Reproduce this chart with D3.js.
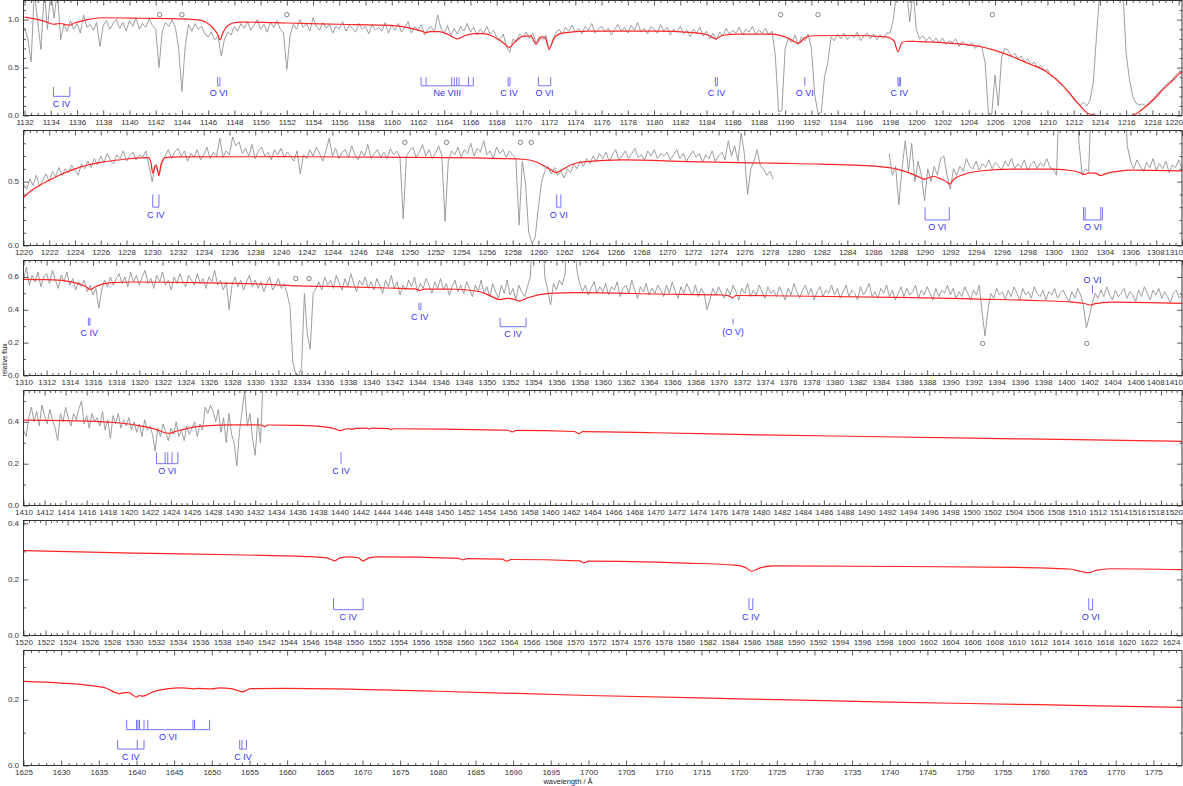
<!DOCTYPE html>
<html>
<head>
<meta charset="utf-8">
<script src="https://cdn.jsdelivr.net/npm/d3@7"></script>
<style>
  body { margin: 0; background: #fff; }
  svg text { font-family: "Liberation Sans", Arial, sans-serif; }
</style>
</head>
<body>
<div id="chart"></div>
<script>
// observed spectrum, relative flux on a 0.25 A grid (1.30 = off the top of the panel)
const obsStep = 0.25;
const obs1Start = 1132.0;
const obs1Flux = [
  .92,.80,.56,1.30,.98,.69,1.30,.90,1.30,1.02,1.30,.79,.95,.88,.99,.90,.96,.86,1.05,.92,
  .95,.89,.97,.72,.94,.99,.90,.96,1.00,.91,.97,.88,.99,.93,1.02,.90,.96,.92,1.01,.94,
  .90,.50,.88,.97,.93,1.00,.92,.70,.25,.72,.95,.88,.96,.90,.93,.85,.82,.87,.79,.83,
  .62,.80,.87,.84,.93,.88,.96,.91,.98,.89,.94,1.00,.90,.95,.87,.97,.92,.99,.90,.86,
  .48,.84,.95,.90,1.00,.92,.96,.88,1.02,.93,.89,.97,.91,.95,.86,.93,.90,.98,.88,.94,
  .91,.87,.96,.90,.93,.85,.95,.89,.92,.88,.97,.86,.94,.89,.96,.87,.92,.98,.86,.93,
  .89,.95,.84,.90,.93,.87,1.05,.91,.86,.94,.83,.91,.85,.93,.88,.96,.87,.92,.84,.90,
  .86,.93,.85,.89,.82,.79,.85,.72,.66,.80,.77,.85,.82,.87,.80,.86,.76,.82,.79,.84,
  .68,.78,.86,.90,.85,.92,.88,.94,.87,.91,.85,.93,.89,.96,.86,.90,.93,.87,.91,.84,
  .90,.95,.88,.92,.86,.94,.89,.97,.87,.91,.85,.93,.90,.86,.95,.88,.92,.84,.90,.87,
  .93,.85,.89,.82,.90,.86,.92,.83,.88,.80,.86,.79,.87,.83,.91,.85,.89,.86,.92,.84,
  .90,.87,.93,.85,.89,.86,.91,.84,.88,.62,.04,.05,.70,.80,.76,.84,.74,.82,.78,.85,
  .70,.22,.02,.03,.40,.55,.82,.78,.85,.80,.86,.79,.84,.81,.87,.78,.83,.86,.80,.85,
  .79,.84,.81,.86,.86,1.00,1.30,1.30,1.30,1.30,.98,1.30,.90,.80,.83,.78,.82,.77,.81,.76,
  .81,.74,.78,.76,.80,.72,.77,.74,.73,.76,.70,.74,.71,.55,.02,.01,.42,.10,.60,.70,
  .68,.62,.65,.59,.62,.56,.59,.53,.56,.50,.52,.47,.48,.42,.40,.37,.33,.30,.25,.22,
  .17,.13,.11,.14,.10,.16,.35,.85,1.30,1.30,1.30,1.30,1.30,1.30,1.30,1.30,.65,.38,.20,.13,
  .11,.12,.10,.13,.17,.21,.24,.28,.31,.35,.37,.42,.45,.47
];
const obs2aStart = 1220.0;
const obs2aFlux = [
  .48,.44,.52,.47,.55,.46,.51,.56,.50,.58,.54,.61,.55,.60,.57,.63,.59,.55,.64,.60,
  .66,.61,.68,.63,.70,.65,.72,.67,.64,.71,.68,.74,.66,.70,.73,.67,.71,.69,.74,.62,
  .50,.63,.56,.64,.70,.75,.68,.73,.76,.70,.74,.66,.72,.69,.75,.67,.71,.77,.68,.73,
  .70,.84,.69,.74,.71,.85,.78,.81,.72,.76,.70,.79,.68,.74,.77,.70,.73,.67,.75,.71,
  .76,.69,.73,.70,.66,.74,.56,.71,.68,.75,.70,.77,.72,.66,.74,.84,.70,.76,.68,.73,
  .75,.69,.78,.71,.67,.74,.70,.79,.68,.72,.75,.69,.73,.68,.76,.71,.74,.69,.21,.70,
  .74,.77,.69,.73,.79,.70,.75,.68,.72,.78,.70,.19,.66,.74,.71,.77,.69,.75,.72,.80,
  .70,.76,.73,.82,.71,.74,.68,.77,.72,.75,.69,.74,.71,.68,.16,.66,.48,.10,.02,.06,
  .30,.50,.58,.62,.56,.61,.55,.58,.53,.60,.57,.64,.60,.66,.62,.68,.64,.70,.66,.72,
  .68,.73,.66,.71,.75,.67,.70,.74,.68,.72,.76,.69,.71,.67,.74,.70,.75,.68,.72,.70,
  .73,.67,.71,.75,.68,.72,.66,.70,.74,.69,.72,.65,.71,.68,.74,.66,.70,.73,.67,.82,
  .70,.78,.66,.88,.72,.40,.60,.66,.75,.62,.60,.55,.58,.52
];
const obs2bStart = 1287.25;
const obs2bFlux = [
  .72,.55,.62,.32,.60,.82,.58,.80,.50,.66,.55,.35,.60,.50,.62,.55,
  .68,.70,.55,.44,.60,.55,.62,.58,.68,.62,.60,.66,.59,.64,.61,.67,.60,.65,.62,.59,
  .66,.62,.68,.60,.64,.61,.67,.59,.63,.66,.60,.65,.62,.68,.61,.60,.55,1.30,1.30,1.30,
  1.30,1.30,1.30,.80,.55,.60,.58,1.30,1.30,1.30,1.30,1.30,1.30,1.30,1.30,1.30,1.30,1.30,.78,.66,
  .60,.67,.62,.58,.65,.61,.68,.59,.64,.60,.66,.57,.63,.61,.67,.60
];
const obs3Start = 1310.0;
const obs3Flux = [
  .58,.66,.55,.61,.57,.63,.54,.60,.62,.56,.64,.58,.53,.61,.57,.63,.55,.59,.52,.57,
  .54,.58,.51,.55,.49,.53,.41,.52,.58,.54,.60,.55,.59,.62,.56,.60,.54,.63,.57,.61,
  .55,.60,.64,.56,.59,.53,.61,.57,.63,.55,.58,.52,.60,.56,.62,.57,.54,.61,.58,.55,
  .62,.56,.59,.53,.60,.57,.64,.55,.58,.52,.57,.40,.55,.60,.54,.58,.52,.57,.61,.54,
  .58,.53,.57,.51,.56,.60,.52,.55,.59,.53,.56,.50,.42,.08,.01,.00,.05,.50,.25,.16,
  .50,.53,.57,.52,.60,.55,.58,.53,.61,.56,.52,.59,.54,.62,.56,.51,.58,.55,.60,.53,
  .57,.52,.59,.55,.50,.58,.54,.61,.53,.57,.49,.55,.52,.58,.54,.60,.51,.56,.53,.59,
  .55,.50,.57,.53,.59,.52,.56,.49,.54,.58,.51,.55,.50,.57,.53,.48,.55,.51,.58,.50,
  .54,.48,.56,.51,.47,.55,.50,.58,.49,.53,.46,.55,.51,.48,.54,.60,1.00,1.00,1.00,1.00,
  .60,.52,.43,.56,.52,.58,.55,.62,1.00,1.00,1.00,.65,.56,.51,.55,.49,.53,.57,.50,.54,
  .51,.56,.49,.54,.52,.57,.48,.53,.55,.50,.58,.52,.47,.54,.51,.56,.49,.53,.50,.55,
  .52,.48,.55,.50,.57,.51,.47,.54,.50,.56,.52,.49,.55,.48,.53,.50,.40,.46,.53,.49,
  .54,.50,.47,.53,.49,.55,.51,.46,.53,.50,.56,.48,.52,.49,.55,.51,.47,.54,.50,.52,
  .48,.54,.50,.46,.53,.49,.56,.51,.47,.52,.55,.49,.53,.46,.51,.54,.48,.52,.50,.55,
  .49,.53,.47,.51,.55,.48,.52,.50,.46,.54,.49,.52,.56,.48,.51,.47,.53,.50,.55,.48,
  .52,.46,.50,.54,.48,.53,.49,.51,.55,.47,.52,.49,.54,.50,.46,.53,.48,.52,.50,.55,
  .49,.53,.47,.51,.48,.54,.50,.46,.52,.49,.55,.38,.24,.40,.50,.47,.53,.49,.51,.46,
  .52,.48,.54,.50,.46,.53,.49,.51,.47,.54,.50,.48,.52,.46,.51,.49,.53,.47,.50,.52,
  .48,.45,.51,.47,.53,.49,.42,.29,.36,.44,.50,.47,.52,.48,.54,.49,.46,.52,.48,.50,
  .53,.47,.51,.49,.45,.52,.48,.54,.50,.46,.52,.49,.53,.47,.51,.48,.44,.50,.52,.47,
  .49
];
const obs4Start = 1410.0;
const obs4Flux = [
  .36,.33,.42,.47,.40,.45,.38,.48,.43,.39,.46,.41,.37,.31,.44,.40,.47,.42,.38,.44,
  .41,.46,.50,.39,.43,.37,.44,.40,.42,.38,.45,.36,.41,.32,.43,.39,.44,.37,.41,.38,
  .42,.36,.40,.35,.39,.33,.41,.36,.38,.34,.26,.37,.33,.39,.35,.31,.37,.34,.40,.33,
  .36,.31,.38,.34,.37,.40,.33,.39,.36,.47,.44,.48,.45,.40,.46,.35,.42,.30,.44,.34,
  .30,.19,.35,.45,.55,.38,.44,.32,.24,.42,.30,.60,.70
];

// model spectrum, [wavelength, relative flux], one list per panel
const model1 = [[1132,1.027],[1132.7,1.01],[1133.5,0.985],[1134.2,0.952],[1134.7,0.96],[1135.45,0.942],[1135.8,0.965],
  [1136.8,1.0],[1137.9,1.02],[1141,1.015],[1144,1.008],[1145.2,0.998],[1145.8,0.975],[1146.4,0.91],[1146.75,0.84],
  [1146.92,0.79],[1147.1,0.855],[1147.4,0.925],[1147.9,0.965],[1148.5,0.975],[1152,0.965],[1156,0.952],[1160,0.94],
  [1161.5,0.91],[1162.3,0.88],[1162.6,0.865],[1162.9,0.875],[1163.6,0.875],[1164.3,0.845],[1165.0,0.80],[1165.6,0.835],
  [1166.3,0.855],[1167.0,0.855],[1167.8,0.82],[1168.5,0.76],[1168.97,0.71],[1169.4,0.77],[1170.0,0.825],[1170.6,0.83],
  [1171.0,0.745],[1171.4,0.82],[1171.7,0.81],[1172.0,0.695],[1172.4,0.81],[1173.0,0.86],[1175,0.88],[1180,0.88],
  [1183,0.865],[1184.2,0.835],[1184.7,0.80],[1185.2,0.835],[1186.5,0.85],[1189,0.85],[1190.0,0.82],[1190.6,0.78],
  [1191.0,0.752],[1191.5,0.81],[1192.1,0.832],[1195,0.835],[1197.7,0.82],[1198.3,0.78],[1198.6,0.665],[1198.9,0.76],
  [1199.3,0.775],[1200,0.772],[1202,0.76],[1204.85,0.72],[1206,0.68],[1207.4,0.61],[1208.5,0.545],[1209.9,0.46],
  [1211.2,0.31],[1212.0,0.18],[1212.5,0.10],[1213.0,0.03],[1213.5,0.005],[1214,0],[1216.4,0],[1216.8,0.02],
  [1217.05,0.045],[1217.55,0.10],[1218.2,0.18],[1218.8,0.27],[1219.5,0.36],[1220.1,0.44],[1220.3,0.46]];
const model2 = [[1220,0.375],[1220.5,0.42],[1221,0.455],[1222,0.51],[1223,0.56],[1224,0.60],[1225,0.63],[1226,0.65],
  [1227,0.665],[1228,0.677],[1229,0.685],[1229.7,0.688],[1229.9,0.65],[1230.04,0.565],[1230.2,0.62],[1230.3,0.63],
  [1230.4,0.60],[1230.52,0.545],[1230.7,0.64],[1231,0.688],[1232,0.693],[1240,0.695],[1250,0.69],[1255,0.685],
  [1258.8,0.675],[1259.8,0.655],[1260.4,0.625],[1261.0,0.59],[1261.4,0.57],[1261.8,0.59],[1262.5,0.63],[1263.5,0.655],
  [1266.6,0.67],[1271.7,0.657],[1278.2,0.644],[1282,0.637],[1286.5,0.618],[1287.8,0.60],[1289.1,0.557],[1289.7,0.53],
  [1290.0,0.518],[1290.3,0.53],[1290.7,0.54],[1291.3,0.52],[1291.7,0.50],[1291.93,0.48],[1292.3,0.52],[1293.0,0.555],
  [1294.3,0.583],[1296.8,0.597],[1300,0.598],[1301.5,0.585],[1302.1,0.568],[1302.4,0.556],[1302.8,0.568],[1303.3,0.565],
  [1303.7,0.548],[1304.2,0.567],[1305,0.58],[1306,0.59],[1310,0.584]];
const model3 = [[1310,0.585],[1312,0.583],[1313.7,0.575],[1314.9,0.555],[1315.4,0.54],[1315.75,0.524],[1316.2,0.54],
  [1316.6,0.552],[1317.7,0.565],[1319.5,0.569],[1325,0.565],[1331,0.555],[1333.8,0.545],[1338,0.54],[1342.5,0.53],
  [1343.8,0.527],[1344.2,0.518],[1344.6,0.526],[1347.3,0.525],[1349.4,0.51],[1350.3,0.485],[1351.1,0.462],[1351.8,0.47],
  [1352.4,0.462],[1352.8,0.453],[1353.6,0.475],[1355.4,0.50],[1357.7,0.504],[1360,0.503],[1364.6,0.496],[1370.3,0.49],
  [1370.9,0.485],[1371.2,0.473],[1371.5,0.487],[1376.1,0.484],[1386.7,0.474],[1392.4,0.465],[1398,0.455],[1400.5,0.447],
  [1401.5,0.44],[1402.1,0.429],[1402.5,0.437],[1403.9,0.447],[1410,0.439]];
const model4 = [[1410,0.408],[1415,0.405],[1418.6,0.397],[1421.1,0.381],[1422.5,0.365],[1423.8,0.345],[1424.5,0.355],
  [1425.5,0.368],[1426.6,0.378],[1429.5,0.386],[1432.6,0.385],[1432.9,0.377],[1433.2,0.385],[1436,0.383],[1438.6,0.376],
  [1439.5,0.368],[1440.1,0.358],[1440.6,0.366],[1441.0,0.368],[1441.2,0.364],[1441.5,0.369],[1442.6,0.37],[1442.8,0.366],
  [1443.0,0.37],[1444.7,0.368],[1444.9,0.363],[1445.1,0.367],[1450,0.365],[1456.0,0.36],[1456.4,0.352],[1456.8,0.359],
  [1462.3,0.354],[1462.7,0.344],[1463.1,0.353],[1470,0.348],[1480,0.338],[1490,0.33],[1500,0.322],[1510,0.315],[1520,0.307]];
const model5 = [[1520,0.303],[1530,0.294],[1540,0.287],[1546,0.281],[1547.5,0.277],[1548.2,0.266],[1548.7,0.277],
  [1549.5,0.28],[1550.3,0.278],[1550.8,0.266],[1551.3,0.277],[1552,0.28],[1559.4,0.275],[1559.8,0.27],[1560.2,0.274],
  [1563.4,0.272],[1563.8,0.265],[1564.2,0.271],[1570.4,0.266],[1570.8,0.259],[1571.2,0.265],[1580,0.258],[1584.5,0.251],
  [1585.4,0.243],[1586.0,0.229],[1586.7,0.24],[1588,0.248],[1600,0.246],[1610,0.243],[1614.8,0.237],[1615.8,0.229],
  [1616.5,0.224],[1617.2,0.232],[1618.5,0.238],[1625,0.235]];
const model6 = [[1625,0.256],[1630,0.251],[1634,0.243],[1636,0.235],[1637.2,0.222],[1637.7,0.219],[1638.4,0.222],
  [1639,0.222],[1639.6,0.213],[1640.0,0.208],[1640.4,0.213],[1640.8,0.211],[1641.3,0.214],[1642,0.222],[1644,0.233],
  [1646,0.236],[1647.0,0.235],[1647.5,0.233],[1648,0.235],[1650,0.233],[1651,0.236],[1652.5,0.234],[1653.5,0.228],
  [1654.0,0.224],[1654.5,0.228],[1655.2,0.234],[1660,0.235],[1680,0.226],[1700,0.213],[1720,0.203],[1740,0.193],
  [1760,0.185],[1778.8,0.177]];

// line identifications: wavelengths of the components, tick span in flux units
const lineIds = [
  {ion: "C IV", lines: [1134.2, 1135.45], top: 0.30, bot: 0.20},
  {ion: "O VI", lines: [1146.72, 1146.9], top: 0.40, bot: 0.31},
  {ion: "Ne VIII", lines: [1162.24, 1162.62, 1164.57, 1164.77, 1164.95, 1165.13, 1165.85, 1166.22], top: 0.40, bot: 0.31},
  {ion: "C IV", lines: [1168.88, 1169.02], top: 0.40, bot: 0.31},
  {ion: "O VI", lines: [1171.18, 1172.12], top: 0.40, bot: 0.31},
  {ion: "C IV", lines: [1184.68, 1184.83], top: 0.40, bot: 0.31},
  {ion: "O VI", lines: [1191.5], top: 0.40, bot: 0.31},
  {ion: "C IV", lines: [1198.6, 1198.7, 1198.8], top: 0.40, bot: 0.31},
  {ion: "C IV", lines: [1230.04, 1230.52], top: 0.40, bot: 0.30},
  {ion: "O VI", lines: [1261.42, 1261.75], top: 0.40, bot: 0.30},
  {ion: "O VI", lines: [1290.04, 1291.92], top: 0.30, bot: 0.20},
  {ion: "O VI", lines: [1302.35, 1302.48, 1303.69, 1303.82], top: 0.30, bot: 0.20},
  {ion: "C IV", lines: [1315.6, 1315.74], top: 0.352, bot: 0.307},
  {ion: "C IV", lines: [1344.13, 1344.3], top: 0.443, bot: 0.402},
  {ion: "C IV", lines: [1351.14, 1353.38], top: 0.352, bot: 0.297},
  {ion: "(O V)", lines: [1371.25], top: 0.346, bot: 0.311},
  {ion: "O VI", lines: [1402.27], top: 0.55, bot: 0.498, above: true},
  {ion: "O VI", lines: [1422.63, 1423.45, 1423.7, 1424.1, 1424.66], top: 0.255, bot: 0.20},
  {ion: "C IV", lines: [1440.15], top: 0.255, bot: 0.20},
  {ion: "C IV", lines: [1548.1, 1550.78], top: 0.133, bot: 0.092},
  {ion: "C IV", lines: [1585.75, 1586.1], top: 0.133, bot: 0.092},
  {ion: "O VI", lines: [1616.55, 1616.9], top: 0.133, bot: 0.092},
  {ion: "O VI", lines: [1638.7, 1640.0, 1640.2, 1640.4, 1641.0, 1641.5, 1647.5, 1647.7, 1649.7], top: 0.139, bot: 0.109},
  {ion: "C IV", lines: [1637.5, 1640.1, 1641.0], top: 0.078, bot: 0.05},
  {ion: "C IV", lines: [1653.7, 1654.0, 1654.6], top: 0.078, bot: 0.05}
];

// interstellar lines, [wavelength, flux of the marker]
const ismMarks = [[1142.3,1.052],[1144.0,1.052],[1152.0,1.052],[1189.65,1.052],[1192.5,1.052],[1205.8,1.052],
  [1249.62,0.807],[1252.86,0.807],[1258.6,0.807],[1259.45,0.807],[1333.5,0.59],[1334.65,0.59],
  [1392.79,0.195],[1401.78,0.195]];

const panelRanges = [[1131.92,1220.26],[1220,1310],[1310,1410],[1410,1520],[1520,1625],[1625,1778.8]];
const fluxMax = [1.2, 0.9, 0.7, 0.55, 0.41, 0.35];
const fluxLabels = [[0,0.5,1.0],[0,0.5],[0,0.2,0.4,0.6],[0,0.2,0.4],[0,0.2,0.4],[0,0.2]];
const models = [model1, model2, model3, model4, model5, model6];

// settings
const W = 1183, H = 786;
const left = 23.5, right = 1182;
const panelH = 115, panelGap = 130;
const axisColor = "#333";

const obsSegments = [
  {start: obs1Start, flux: obs1Flux}, {start: obs2aStart, flux: obs2aFlux}, {start: obs2bStart, flux: obs2bFlux},
  {start: obs3Start, flux: obs3Flux}, {start: obs4Start, flux: obs4Flux}
].map(s => s.flux.map((f, i) => [s.start + i * obsStep, f]));

const svg = d3.select("#chart").append("svg").attr("width", W).attr("height", H);
svg.append("rect").attr("width", W).attr("height", H).attr("fill", "white");

function stepValues(r, step) {
  return d3.range(Math.ceil(r[0] / step - 1e-6), Math.floor(r[1] / step + 1e-6) + 1).map(k => +(k * step).toFixed(4));
}

panelRanges.forEach((range, i) => {
  const top = 0.5 + i * panelGap, bottom = top + panelH;
  const x = d3.scaleLinear().domain(range).range([left, right]);
  const y = d3.scaleLinear().domain([0, fluxMax[i]]).range([bottom, top]);
  const g = svg.append("g").attr("class", "panel");

  svg.append("clipPath").attr("id", "clip" + i)
    .append("rect").attr("x", left).attr("y", top).attr("width", right - left).attr("height", panelH);

  const plot = g.append("g").attr("clip-path", "url(#clip" + i + ")");

  // observed spectrum
  const obsLine = d3.line().x(d => x(d[0])).y(d => y(d[1]));
  obsSegments.forEach(seg => {
    const pts = seg.filter(d => d[0] >= range[0] - 0.3 && d[0] <= range[1] + 0.3);
    if (pts.length < 2) return;
    plot.append("path").attr("d", obsLine(pts))
      .attr("fill", "none").attr("stroke", "#939393").attr("stroke-width", 0.9);
  });

  // model
  const modelLine = d3.line().x(d => x(d[0])).y(d => y(d[1])).curve(d3.curveMonotoneX);
  plot.append("path").attr("d", modelLine(models[i]))
    .attr("fill", "none").attr("stroke", "#ff2424").attr("stroke-width", 1.2);

  // ISM markers
  plot.selectAll("circle")
    .data(ismMarks.filter(d => d[0] >= range[0] && d[0] <= range[1]))
    .join("circle")
    .attr("cx", d => x(d[0])).attr("cy", d => y(d[1])).attr("r", 2.2)
    .attr("fill", "white").attr("stroke", "#666").attr("stroke-width", 0.8);

  // line identifications
  lineIds.filter(d => d.lines[0] >= range[0] && d.lines[0] <= range[1]).forEach(d => {
    const idg = g.append("g");
    const y1 = y(d.top), y2 = y(d.bot);
    idg.selectAll("line.tk").data(d.lines).join("line").attr("class", "tk")
      .attr("x1", l => x(l)).attr("x2", l => x(l))
      .attr("y1", y1).attr("y2", y2)
      .attr("stroke", "#7474ff").attr("stroke-width", 1);
    const lo = x(d3.min(d.lines)), hi = x(d3.max(d.lines));
    const yb = d.above ? y1 : y2;
    if (hi - lo > 0.5) {
      idg.append("line").attr("x1", lo).attr("x2", hi).attr("y1", yb).attr("y2", yb)
        .attr("stroke", "#7474ff").attr("stroke-width", 1);
    }
    idg.append("text")
      .attr("x", (lo + hi) / 2)
      .attr("y", d.above ? y1 - 2.5 : y2 + 10.5)
      .attr("text-anchor", "middle")
      .attr("font-size", 9)
      .attr("fill", "#3333f2")
      .text(d.ion);
  });

  // axes
  const xMajorStep = i === 5 ? 5 : 2, xMinorStep = i === 5 ? 1 : 0.5;
  const xMajor = stepValues(range, xMajorStep);
  const xMinor = stepValues(range, xMinorStep).filter(v => xMajor.indexOf(v) < 0);
  const yMinor = stepValues([0, fluxMax[i]], 0.1).filter(v => fluxLabels[i].every(l => Math.abs(l - v) > 1e-6));

  const styleAxis = a => {
    a.select(".domain").remove();
    a.attr("color", axisColor).attr("font-size", 8).attr("font-family", null);
    a.selectAll("line").attr("stroke-width", 0.8);
  };

  g.append("g").attr("transform", `translate(0,${bottom})`)
    .call(d3.axisBottom(x).tickValues(xMinor).tickSize(-2.5).tickFormat("")).call(styleAxis);
  g.append("g").attr("class", "xlab").attr("transform", `translate(0,${bottom})`)
    .call(d3.axisBottom(x).tickValues(xMajor).tickSize(-5).tickPadding(3.6).tickFormat(d3.format("d"))).call(styleAxis);
  g.append("g").attr("transform", `translate(0,${top})`)
    .call(d3.axisTop(x).tickValues(xMinor).tickSize(-2.5).tickFormat("")).call(styleAxis);
  g.append("g").attr("transform", `translate(0,${top})`)
    .call(d3.axisTop(x).tickValues(xMajor).tickSize(-5).tickFormat("")).call(styleAxis);

  g.append("g").attr("transform", `translate(${left},0)`)
    .call(d3.axisLeft(y).tickValues(yMinor).tickSize(-2.5).tickFormat("")).call(styleAxis);
  g.append("g").attr("class", "ylab").attr("transform", `translate(${left},0)`)
    .call(d3.axisLeft(y).tickValues(fluxLabels[i]).tickSize(-5).tickPadding(4.5).tickFormat(d3.format(".1f"))).call(styleAxis);
  g.append("g").attr("transform", `translate(${right},0)`)
    .call(d3.axisRight(y).tickValues(yMinor).tickSize(-2.5).tickFormat("")).call(styleAxis);
  g.append("g").attr("transform", `translate(${right},0)`)
    .call(d3.axisRight(y).tickValues(fluxLabels[i]).tickSize(-5).tickFormat("")).call(styleAxis);

  // frame
  g.append("rect").attr("x", left).attr("y", top).attr("width", right - left).attr("height", panelH)
    .attr("fill", "none").attr("stroke", axisColor).attr("stroke-width", 1);
});

// the 0.0 label sits just above the first wavelength label
svg.selectAll(".ylab .tick text").attr("dy", "0.22em");

// keep the last tick labels of each panel inside the picture, without overlapping
svg.selectAll(".xlab").each(function() {
  const info = d3.select(this).selectAll(".tick text").nodes().map(n => {
    const tx = +d3.select(n.parentNode).attr("transform").match(/translate\(([-\d.]+)/)[1];
    return {n: n, tx: tx, cx: tx, half: n.getComputedTextLength() / 2};
  });
  const last = info[info.length - 1];
  last.cx = Math.min(last.tx, W - last.half);
  for (let k = info.length - 2; k >= 0; k--) {
    const room = info[k + 1].cx - info[k + 1].half - 0.6;
    if (info[k].cx + info[k].half > room) info[k].cx = room - info[k].half;
    else break;
  }
  info.forEach(d => d3.select(d.n).attr("x", d.cx - d.tx));
});

svg.append("text")
  .attr("transform", "translate(7,360) rotate(-90)")
  .attr("text-anchor", "middle")
  .attr("font-size", 6.5)
  .attr("fill", "#222")
  .text("relative flux");

svg.append("text")
  .attr("x", 568).attr("y", 784)
  .attr("text-anchor", "middle")
  .attr("font-size", 7.5)
  .attr("fill", "#222")
  .text("wavelength / Å");
</script>
</body>
</html>
